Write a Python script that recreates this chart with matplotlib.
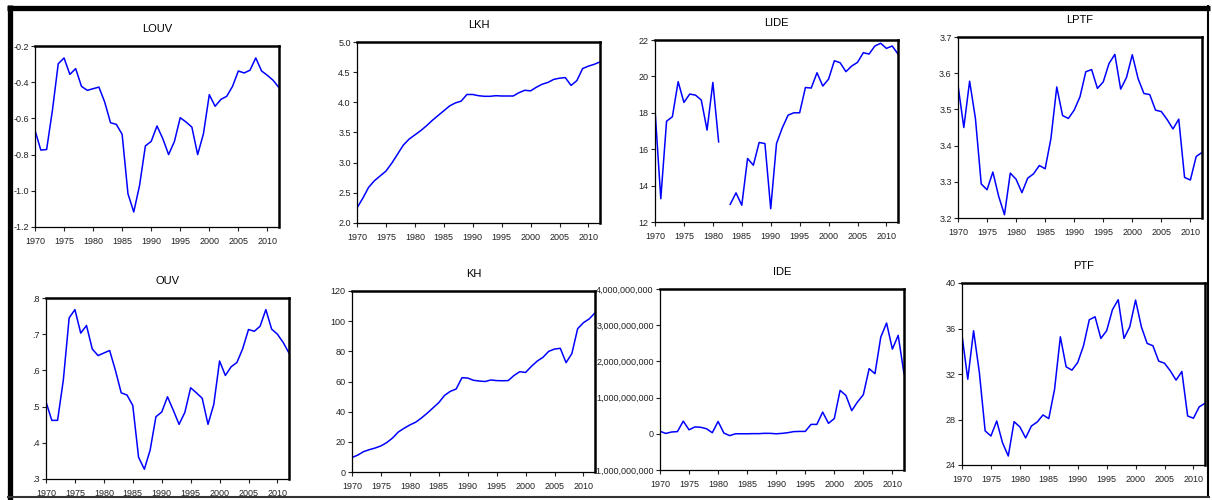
"""plot.py

Eight EViews-style line panels (log and level series, 1970-2012),
arranged in a 2x4 grid inside a black frame.
"""

import numpy as np
import matplotlib
matplotlib.use("Agg")
import matplotlib.pyplot as plt
from matplotlib.lines import Line2D
from matplotlib.ticker import FuncFormatter

plt.rcParams["font.family"] = ["Liberation Sans Narrow", "Liberation Sans", "DejaVu Sans"]

YEARS = np.arange(1970, 2013)

LOUV = [-0.666, -0.775, -0.772, -0.555, -0.298, -0.266, -0.357, -0.325, -0.423, -0.445,
        -0.436, -0.427, -0.510, -0.624, -0.633, -0.688, -1.016, -1.117, -0.970, -0.752,
        -0.727, -0.642, -0.712, -0.800, -0.727, -0.596, -0.620, -0.648, -0.800, -0.684,
        -0.469, -0.533, -0.495, -0.478, -0.423, -0.338, -0.349, -0.334, -0.266, -0.338,
        -0.362, -0.390, -0.430]

LKH = [2.25, 2.41, 2.59, 2.70, 2.78, 2.86, 2.99, 3.14, 3.29, 3.39,
       3.46, 3.53, 3.61, 3.70, 3.78, 3.86, 3.94, 3.99, 4.02, 4.13,
       4.13, 4.11, 4.10, 4.10, 4.11, 4.105, 4.105, 4.105, 4.16, 4.20,
       4.19, 4.25, 4.30, 4.33, 4.38, 4.40, 4.41, 4.28, 4.36, 4.56,
       4.60, 4.63, 4.67]

# 1982 is missing (IDE negative that year)
LIDE = [18.18, 13.28, 17.54, 17.78, 19.71, 18.57, 19.03, 18.97, 18.70, 17.05,
        19.67, 16.40, np.nan, 12.97, 13.60, 12.92, 15.49, 15.12, 16.37, 16.31,
        12.73, 16.31, 17.17, 17.87, 18.00, 18.00, 19.39, 19.36, 20.20, 19.47,
        19.85, 20.86, 20.75, 20.26, 20.57, 20.77, 21.30, 21.23, 21.67, 21.82,
        21.54, 21.67, 21.23]

LPTF = [3.567, 3.450, 3.578, 3.475, 3.294, 3.278, 3.327, 3.260, 3.209, 3.324,
        3.307, 3.270, 3.310, 3.322, 3.345, 3.336, 3.420, 3.562, 3.483, 3.475,
        3.498, 3.535, 3.604, 3.610, 3.558, 3.576, 3.627, 3.652, 3.556, 3.588,
        3.651, 3.585, 3.544, 3.541, 3.498, 3.494, 3.472, 3.446, 3.473, 3.312,
        3.305, 3.370, 3.381]

OUV = [0.513, 0.462, 0.462, 0.574, 0.745, 0.768, 0.703, 0.724, 0.659, 0.641,
       0.648, 0.655, 0.600, 0.538, 0.532, 0.503, 0.360, 0.327, 0.380, 0.472,
       0.485, 0.527, 0.490, 0.451, 0.484, 0.552, 0.538, 0.523, 0.451, 0.506,
       0.626, 0.586, 0.610, 0.622, 0.660, 0.713, 0.708, 0.722, 0.768, 0.714,
       0.700, 0.677, 0.648]

KH = [9.6, 11.2, 13.5, 14.8, 15.9, 17.3, 19.5, 22.5, 26.5, 29.0,
      31.2, 33.0, 35.8, 39.0, 42.5, 46.0, 50.8, 53.5, 55.0, 62.5,
      62.3, 60.8, 60.3, 60.0, 61.0, 60.6, 60.5, 60.6, 64.0, 66.5,
      66.0, 70.0, 73.5, 76.0, 80.0, 81.5, 82.0, 72.5, 78.5, 95.0,
      99.0, 101.5, 105.5]

# IDE in billions, scaled when plotted
IDE_BN = [0.07, 0.01, 0.05, 0.06, 0.35, 0.11, 0.19, 0.18, 0.14, 0.03,
          0.34, 0.02, -0.05, 0.0005, 0.001, 0.0005, 0.005, 0.004, 0.013, 0.012,
          0.0003, 0.012, 0.03, 0.06, 0.066, 0.066, 0.26, 0.26, 0.60, 0.29,
          0.42, 1.20, 1.06, 0.64, 0.88, 1.08, 1.80, 1.66, 2.67, 3.06,
          2.34, 2.72, 1.66]

PTF = [35.42, 31.54, 35.80, 32.13, 27.00, 26.55, 27.87, 25.96, 24.79, 27.81,
       27.35, 26.38, 27.43, 27.78, 28.40, 28.08, 30.66, 35.27, 32.63, 32.34,
       33.01, 34.48, 36.77, 37.03, 35.13, 35.80, 37.65, 38.53, 35.13, 36.15,
       38.50, 36.15, 34.69, 34.48, 33.13, 32.95, 32.28, 31.46, 32.22, 28.31,
       28.11, 29.11, 29.43]

W, H = 1212, 500

# (title, values, yticks, formatter, box in pixels: left, right, top, bottom)
PANELS = [
    ("LOUV", LOUV, np.arange(-1.2, -0.19, 0.2), lambda v, p: f"{v:.1f}", (35, 279, 46, 227)),
    ("LKH", LKH, np.arange(2.0, 5.01, 0.5), lambda v, p: f"{v:.1f}", (357, 600, 42, 223)),
    ("LIDE", LIDE, np.arange(12, 23, 2), lambda v, p: f"{v:.0f}", (655, 898, 40, 222)),
    ("LPTF", LPTF, np.arange(3.2, 3.71, 0.1), lambda v, p: f"{v:.1f}", (958, 1202, 37, 218)),
    ("OUV", OUV, np.arange(0.3, 0.81, 0.1), lambda v, p: f"{v:.1f}".lstrip("0"), (46, 289, 298, 479)),
    ("KH", KH, np.arange(0, 121, 20), lambda v, p: f"{v:.0f}", (352, 595, 291, 472)),
    ("IDE", [v * 1e9 for v in IDE_BN], np.arange(-1e9, 4.01e9, 1e9),
     lambda v, p: f"{v:,.0f}", (660, 904, 289, 470)),
    ("PTF", PTF, np.arange(24, 41, 4), lambda v, p: f"{v:.0f}", (962, 1205, 283, 465)),
]


def draw_panel(fig, title, values, yticks, fmt, box):
    l, r, t, b = box
    ax = fig.add_axes([l / W, 1 - b / H, (r - l) / W, (b - t) / H])
    ax.plot(YEARS, values, color="#0000ff", linewidth=1.1)
    ax.set_xlim(1970, 2012)
    ax.set_ylim(yticks[0], yticks[-1])
    ax.set_xticks(np.arange(1970, 2011, 5))
    ax.set_yticks(yticks)
    ax.yaxis.set_major_formatter(FuncFormatter(fmt))
    ax.tick_params(direction="out", length=3, width=0.8,
                   labelsize=6.5, colors="#222222")
    ax.tick_params(axis="x", pad=4.5)
    ax.tick_params(axis="y", pad=1.5)
    for side in ("top", "right"):
        ax.spines[side].set_linewidth(1.8)
    for side in ("left", "bottom"):
        ax.spines[side].set_linewidth(0.9)
    ax.set_title(title, fontsize=8, pad=10, family=["Liberation Sans", "DejaVu Sans"])
    return ax


fig = plt.figure(figsize=(W / 100, H / 100), dpi=100)

for title, values, yticks, fmt, box in PANELS:
    draw_panel(fig, title, values, yticks, fmt, box)

# outer frame (thick on top and left, thinner on right and bottom)
def frame_line(x0, y0, x1, y1, lw, color="black"):
    fig.add_artist(Line2D([x0 / W, x1 / W], [1 - y0 / H, 1 - y1 / H],
                          transform=fig.transFigure, color=color, linewidth=lw,
                          solid_capstyle="butt", zorder=10))

frame_line(7, 7.5, 1210, 7.5, 3.8)
frame_line(9.5, 5, 9.5, 500, 3.8)
frame_line(1208, 5, 1208, 497, 1.5)
frame_line(7, 496.5, 1210, 496.5, 1.5, color="#333333")

fig.savefig("out.png", dpi=100)
